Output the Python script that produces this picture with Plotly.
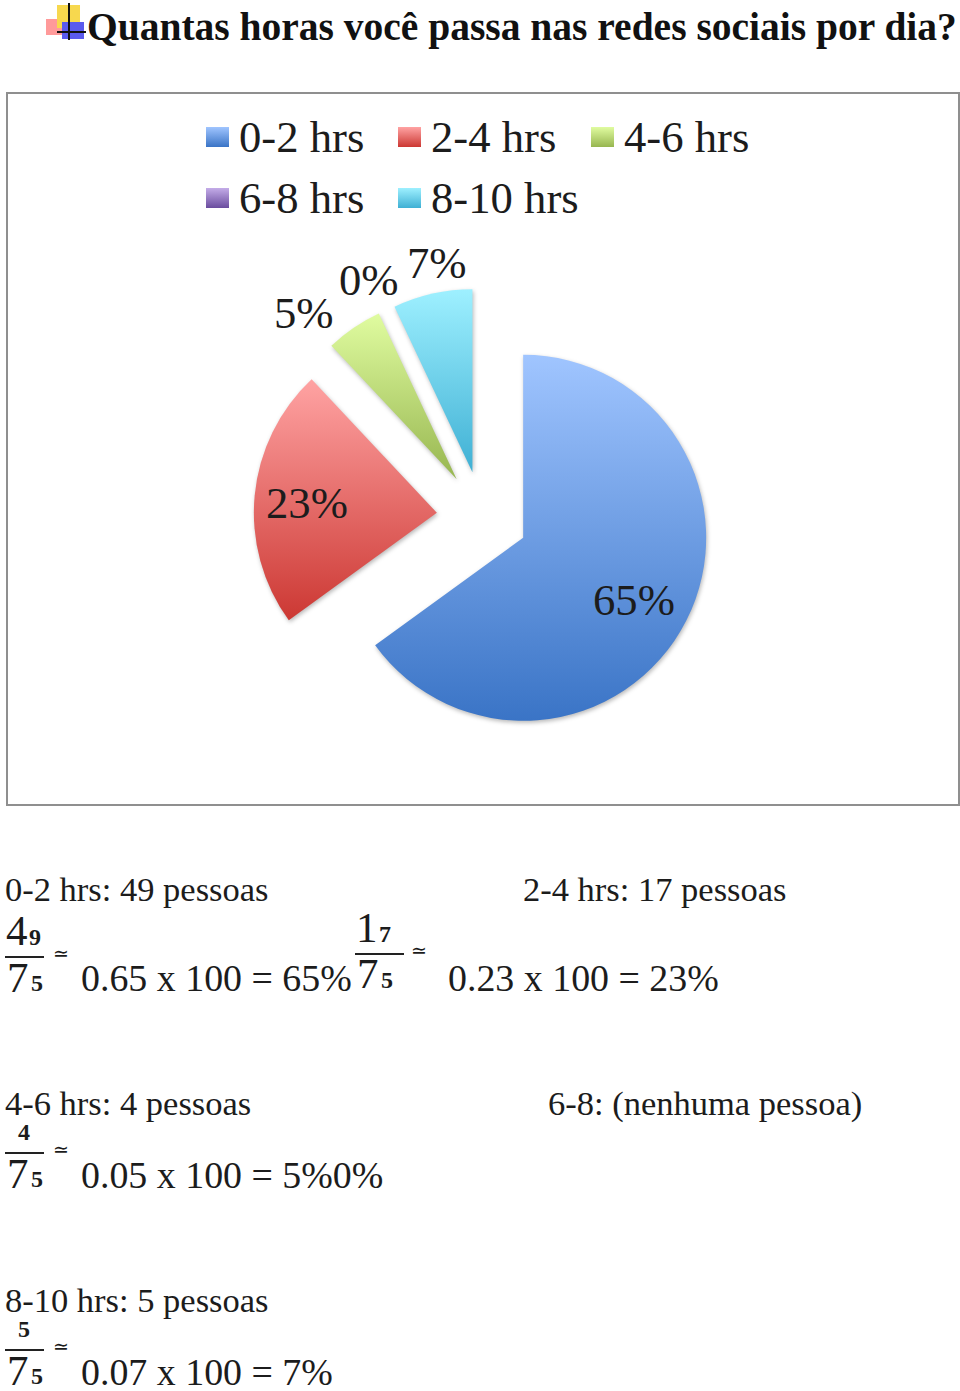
import json
import plotly.graph_objects as go

W, H = 960, 1391
TITLE = "Quantas horas você passa nas redes sociais por dia?"
labels = ["0-2 hrs", "2-4 hrs", "4-6 hrs", "6-8 hrs", "8-10 hrs"]
pessoas = [49, 17, 4, 0, 5]
percentuais = [65, 23, 5, 0, 7]
colors = ["#6a9be0", "#e5706f", "#c4e08a", "#a78fca", "#72d3ec"]
grad_top = ["#a0c5ff", "#ffa3a3", "#e0fca0", "#c4ace8", "#9ef0ff"]
grad_bot = ["#3a74c6", "#cc3833", "#97b650", "#6a4c9e", "#3fb0d4"]
SERIF = "Liberation Serif"
INK = "#1c1c1c"


def fx(x):
    return x / W


def fy(y):
    return 1 - y / H


annotations = []
shapes = []


def txt(x, y, s, size, bold=False, font=SERIF, color=INK):
    annotations.append(dict(
        x=fx(x), y=fy(y), xref="paper", yref="paper", xanchor="left", yanchor="middle",
        text=f"<b>{s}</b>" if bold else s, showarrow=False, borderpad=0, borderwidth=0,
        font=dict(family=font, size=size, color=color)))


def rect(x0, y0, x1, y1, fill, line=None, lw=0, layer="below"):
    shapes.append(dict(type="rect", xref="paper", yref="paper", x0=fx(x0), x1=fx(x1),
                       y0=fy(y0), y1=fy(y1), fillcolor=fill, layer=layer,
                       line=dict(color=line or fill, width=lw)))


def hline(x0, x1, y, color="#111111", w=2):
    shapes.append(dict(type="line", xref="paper", yref="paper", x0=fx(x0), x1=fx(x1),
                       y0=fy(y), y1=fy(y), line=dict(color=color, width=w)))


def vline(x, y0, y1, color="#111111", w=2):
    shapes.append(dict(type="line", xref="paper", yref="paper", x0=fx(x), x1=fx(x),
                       y0=fy(y0), y1=fy(y1), line=dict(color=color, width=w)))


# chart frame
rect(7, 93, 959, 805, "white", line="#8f8f8f", lw=2)

# title + icon
rect(46, 19, 62, 35, "#ff9a9a")
rect(57, 5, 80, 28, "#f7d84e")
rect(62, 22, 84, 39, "#5a5aee")
vline(69, 3, 40)
hline(57, 86, 32)
txt(87, 27, TITLE, 39.5, bold=True, color="#111111")

# legend
leg_pos = [(206, 137), (398, 137), (591, 137), (206, 198), (398, 198)]
for (x, y), c, l in zip(leg_pos, colors, labels):
    rect(x, y - 10, x + 23, y + 10, c)
    txt(x + 33, y, l, 44.7)

# pie labels
pct_pos = [(593, 600), (266, 503), (274, 313), (339, 280), (407, 263)]
for (x, y), v in zip(pct_pos, percentuais):
    txt(x, y, f"{v}%", 44.7)


def frac(x, y_line, top, bottom, big_top=True, line_x1=None, tilde_x=None):
    x1 = line_x1 or x + 39
    hline(x, x1, y_line, "#222222", 2)
    if big_top:
        txt(x + 1, y_line - 27, top[0], 43)
        if len(top) > 1:
            txt(x + 24, y_line - 20, f"<b>{top[1]}</b>", 24)
    else:
        txt(x + 13, y_line - 21, f"<b>{top}</b>", 24)
    txt(x + 2, y_line + 20, bottom[0], 43)
    txt(x + 26, y_line + 26, f"<b>{bottom[1]}</b>", 24)
    tx = tilde_x or x1 + 9
    txt(tx, y_line - 4, "≃", 19, font="DejaVu Sans")


BODY = 34.5
CALC = 37.9
txt(5, 889, f"0-2 hrs: {pessoas[0]} pessoas", BODY)
txt(523, 889, f"2-4 hrs: {pessoas[1]} pessoas", BODY)
frac(5, 957, "49", "75")
txt(81, 978, "0.65 x 100 = 65%", CALC)
frac(355, 954, "17", "75", line_x1=404, tilde_x=411)
txt(448, 978, "0.23 x 100 = 23%", CALC)

txt(5, 1103, f"4-6 hrs: {pessoas[2]} pessoas", BODY)
txt(548, 1103, "6-8: (nenhuma pessoa)", BODY)
frac(5, 1153, "4", "75", big_top=False)
txt(81, 1175, "0.05 x 100 = 5%0%", CALC)

txt(5, 1300, f"8-10 hrs: {pessoas[4]} pessoas", BODY)
frac(5, 1350, "5", "75", big_top=False)
txt(81, 1372, "0.07 x 100 = 7%", CALC)

# pie geometry
cx, cy, r, pull = 482.4, 517.0, 183, 0.25
half = r * (1 + pull)
pie = go.Pie(
    labels=labels, values=percentuais, sort=False, direction="clockwise", rotation=0,
    pull=[pull] * len(labels), marker=dict(colors=colors, line=dict(width=0)),
    textinfo="none", showlegend=False,
    domain=dict(x=[fx(cx - half), fx(cx + half)], y=[fy(cy + half), fy(cy - half)]),
)

fig = go.Figure(pie)
fig.update_layout(width=W, height=H, margin=dict(l=0, r=0, t=0, b=0),
                  paper_bgcolor="white", plot_bgcolor="white", showlegend=False,
                  annotations=annotations, shapes=shapes)


def rgb(h):
    return f"rgb({int(h[1:3],16)}, {int(h[3:5],16)}, {int(h[5:7],16)})"


grads = {rgb(c): [t, b] for c, t, b in zip(colors, grad_top, grad_bot)}
post = """
document.body.style.margin = '0';
var gd = document.querySelector('.plotly-graph-div');
var svg = gd.querySelector('svg.main-svg');
var NS = 'http://www.w3.org/2000/svg';
var defs = document.createElementNS(NS, 'defs');
var map = %s, ids = {}, n = 0;
Object.keys(map).forEach(function (k) {
  var g = document.createElementNS(NS, 'linearGradient');
  g.id = 'vgrad' + n; g.setAttribute('x1', '0'); g.setAttribute('y1', '0');
  g.setAttribute('x2', '0'); g.setAttribute('y2', '1');
  [0, 1].forEach(function (i) {
    var s = document.createElementNS(NS, 'stop');
    s.setAttribute('offset', String(i)); s.setAttribute('stop-color', map[k][i]);
    g.appendChild(s);
  });
  defs.appendChild(g); ids[k] = g.id; n++;
});
svg.insertBefore(defs, svg.firstChild);
gd.querySelectorAll('path').forEach(function (p) {
  var f = p.style.fill;
  if (ids[f]) {
    p.style.fill = 'url(#' + ids[f] + ')';
    if (p.classList.contains('surface')) {
      p.style.filter = 'drop-shadow(1px 2px 2px rgba(0,0,0,0.28))';
    }
  }
});
""" % json.dumps(grads)
fig.write_html("out.html", config=dict(displayModeBar=False), post_script=post)
